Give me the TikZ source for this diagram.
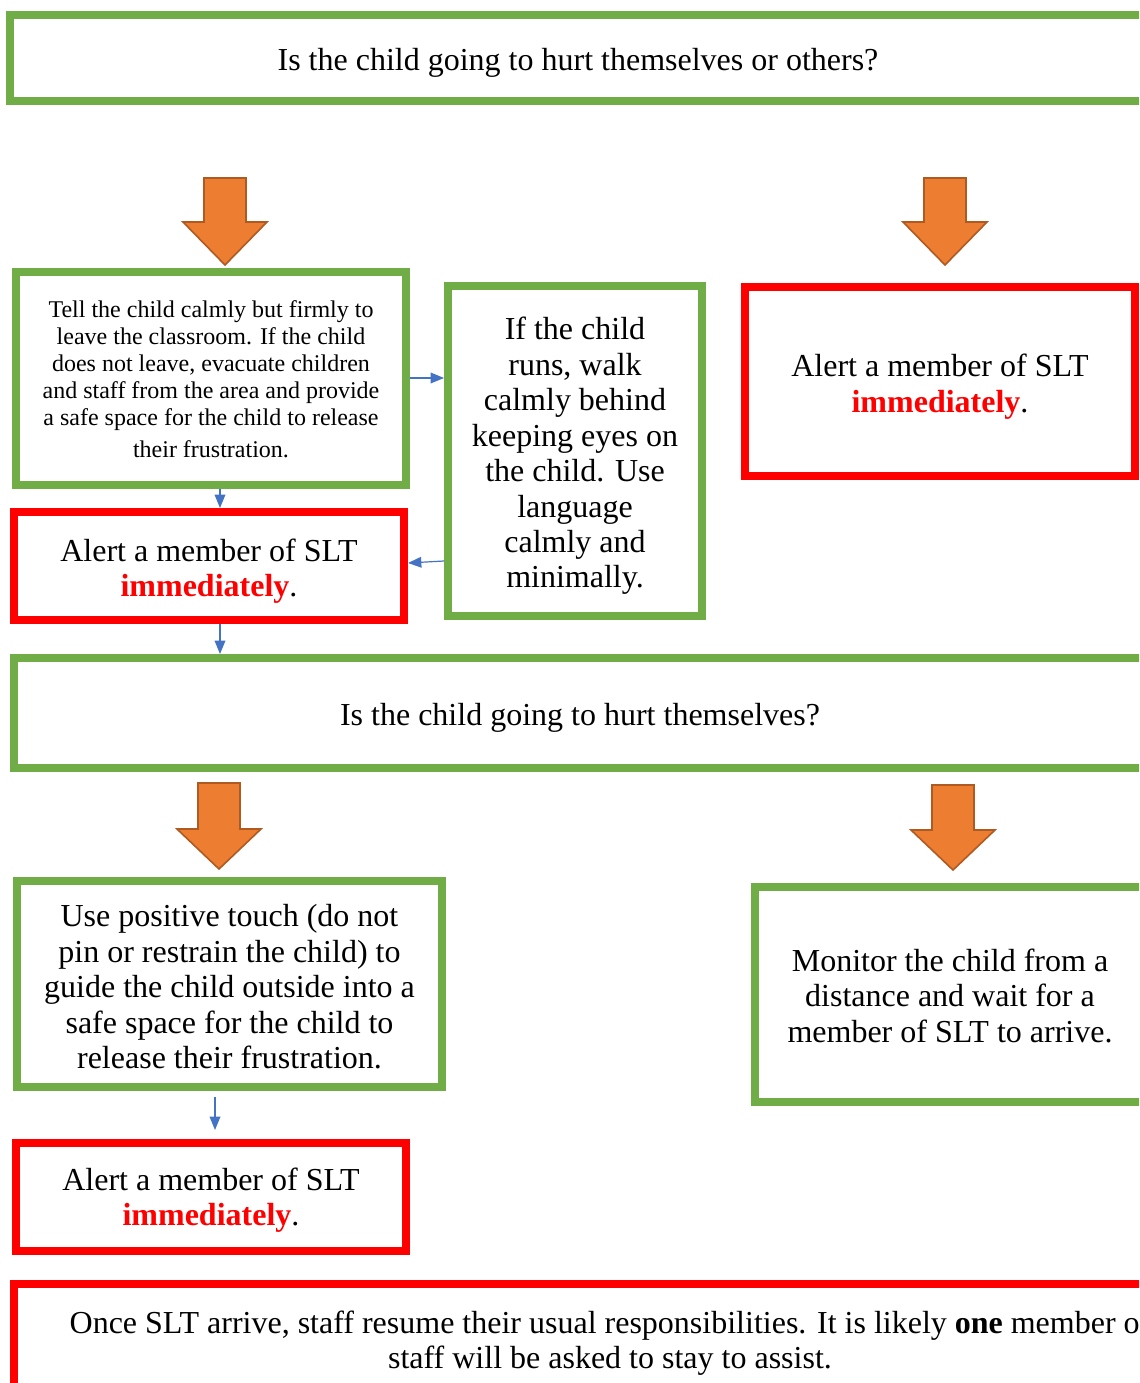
\documentclass[tikz,border=0pt]{standalone}
\usepackage{fontspec}
\setmainfont{Liberation Serif}
\usetikzlibrary{arrows.meta}
\definecolor{bgreen}{HTML}{70AD47}
\definecolor{bred}{HTML}{FF0000}
\definecolor{borange}{HTML}{ED7D31}
\definecolor{borangeline}{HTML}{AE5A21}
\definecolor{bblue}{HTML}{4472C4}
\begin{document}
\begin{tikzpicture}[x=0.75pt,y=-0.75pt,
  box/.style={draw, line width=6pt, rectangle, inner sep=0pt},
  greenbox/.style={box, draw=bgreen},
  redbox/.style={box, draw=bred},
  txt/.style={align=center, inner sep=0pt, font=\fontsize{24}{26.6}\selectfont},
  smalltxt/.style={txt, font=\fontsize{18}{20.25}\selectfont},
  conn/.style={draw=bblue, line width=0.9pt, -{Triangle[width=8pt,length=10pt]}},
  blockarrow/.style={fill=borange, draw=borangeline, line width=1.2pt, line join=miter}
]
\useasboundingbox (0,0) rectangle (1139,1383);
\clip (0,0) rectangle (1139,1383);
\fill[white] (0,0) rectangle (1139,1383);

% boxes
\node[greenbox, minimum width=852pt, minimum height=64.5pt] (q1) at (578,58) {};
\node[greenbox, minimum width=292.5pt, minimum height=159.75pt] (tell) at (211,378.5) {};
\node[redbox, minimum width=292.5pt, minimum height=81pt] (alert1) at (209,566) {};
\node[greenbox, minimum width=190.5pt, minimum height=247.5pt] (runs) at (575,451) {};
\node[redbox, minimum width=292.5pt, minimum height=141.75pt] (alert2) at (940,381.5) {};
\node[greenbox, minimum width=849pt, minimum height=82.5pt] (q2) at (580,713) {};
\node[greenbox, minimum width=318.75pt, minimum height=154.5pt] (touch) at (229.5,984) {};
\node[greenbox, minimum width=292.5pt, minimum height=161.25pt] (monitor) at (950,994.5) {};
\node[redbox, minimum width=292.5pt, minimum height=81pt] (alert3) at (211,1197) {};
\node[redbox, minimum width=894pt, minimum height=84pt] (final) at (610,1340) {};

% texts
\node[txt] (q1t) at ([yshift=-3.75pt]q1.center)
  {Is the child going to hurt themselves or others?};
\node[smalltxt] (tellt) at ([yshift=-0.75pt]tell.center)
  {Tell the child calmly but firmly to\\ leave the classroom. If the child\\ does not leave, evacuate children\\ and staff from the area and provide\\ a safe space for the child to release\\[4pt] their frustration.};
\node[txt] (alert1t) at ([yshift=-3.75pt]alert1.center)
  {Alert a member of SLT\\ \textcolor{bred}{\textbf{immediately}}.};
\node[txt] (runst) at ([yshift=-3.75pt]runs.center)
  {If the child\\ runs, walk\\ calmly behind\\ keeping eyes on\\ the child. Use\\ language\\ calmly and\\ minimally.};
\node[txt] (alert2t) at ([yshift=-3.75pt]alert2.center)
  {Alert a member of SLT\\ \textcolor{bred}{\textbf{immediately}}.};
\node[txt] (q2t) at ([yshift=-3.75pt]q2.center)
  {Is the child going to hurt themselves?};
\node[txt] (toucht) at ([yshift=-2.25pt]touch.center)
  {Use positive touch (do not\\ pin or restrain the child) to\\ guide the child outside into a\\ safe space for the child to\\ release their frustration.};
\node[txt] (monitort) at ([yshift=-0.75pt]monitor.center)
  {Monitor the child from a\\ distance and wait for a\\ member of SLT to arrive.};
\node[txt] (alert3t) at ([yshift=-2.25pt]alert3.center)
  {Alert a member of SLT\\ \textcolor{bred}{\textbf{immediately}}.};
\node[txt] (finalt) at ([yshift=-2.25pt]final.center)
  {Once SLT arrive, staff resume their usual responsibilities. It is likely \textbf{one} member of\\ staff will be asked to stay to assist.};

% orange block arrows
\draw[blockarrow] (204,178) -- (246,178) -- (246,222) -- (267,222) -- (225,265) -- (183,222) -- (204,222) -- cycle;
\draw[blockarrow] (924,178) -- (966,178) -- (966,222) -- (987,222) -- (945,265) -- (903,222) -- (924,222) -- cycle;
\draw[blockarrow] (198,783) -- (240,783) -- (240,829) -- (261,829) -- (219,869) -- (177,829) -- (198,829) -- cycle;
\draw[blockarrow] (932,785) -- (974,785) -- (974,830) -- (995,830) -- (953,870) -- (911,830) -- (932,830) -- cycle;

% blue connectors
\draw[conn] (tell.east |- 0,378) -- (runs.west |- 0,378);
\draw[conn] (runs.west |- 0,561) -- (alert1.east |- 0,563);
\draw[conn] (tell.south -| 220,0) -- (alert1.north -| 220,0);
\draw[conn] (alert1.south -| 220,0) -- (q2.north -| 220,0);
\draw[conn, shorten <=4.5pt, shorten >=6.75pt] (touch.south -| 215,0) -- (alert3.north -| 215,0);
\end{tikzpicture}
\end{document}
